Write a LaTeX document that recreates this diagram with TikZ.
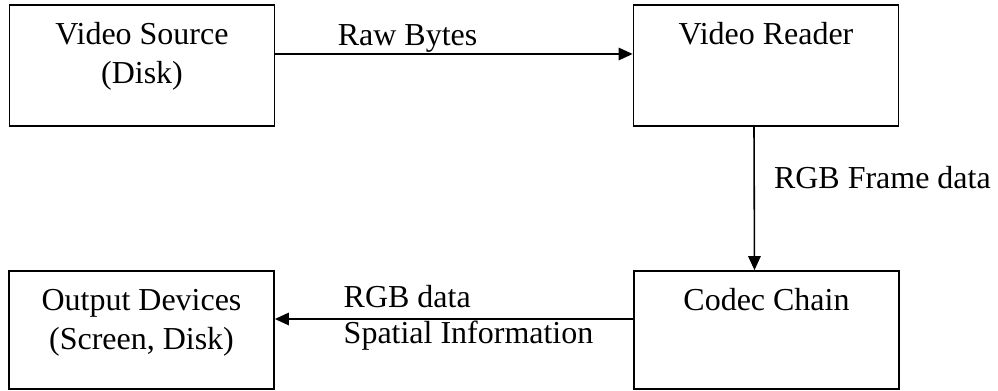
\documentclass[tikz,border=0pt]{standalone}
\usepackage{fontspec}
\setmainfont{Liberation Serif}
\usetikzlibrary{arrows.meta}

\tikzset{
  box/.style={draw, line width=1pt, minimum width=5.3cm, align=center,
    inner sep=0pt, text height=0.78cm, text depth=#1},
  box/.default=1.64cm,
  twoline/.style={text height=1.57cm, text depth=#1},
  flow/.style={-{Triangle[length=0.28cm,width=0.25cm]}, line width=0.9pt},
  lbl/.style={inner sep=0pt}
}

\begin{document}
\begin{tikzpicture}[font=\fontsize{18.2}{22.4}\selectfont]
  \useasboundingbox (0,0) rectangle (19.96,-7.82);

  % the four stages
  \node[box, twoline=0.85cm] (src) at (2.84,-1.31) {Video Source\\(Disk)};
  \node[box] (reader) at (15.32,-1.31) {Video Reader};
  \node[box=1.58cm] (codec) at (15.33,-6.6) {Codec Chain};
  \node[box, twoline=0.79cm] (out) at (2.83,-6.6) {Output Devices\\(Screen, Disk)};

  % data flow between them
  \draw[flow] ([yshift=0.23cm]src.east) -- ([yshift=0.23cm]reader.west)
    node[lbl, pos=0.37, anchor=base, yshift=0.18cm] {Raw Bytes};

  \draw[flow] ([xshift=-0.24cm]reader.south) -- ([xshift=-0.24cm]codec.north)
    node[lbl, pos=0.43, anchor=base west, xshift=0.38cm] {RGB Frame data};

  \draw[flow] ([yshift=0.22cm]codec.west) -- ([yshift=0.22cm]out.east)
    node[lbl, pos=0.81, anchor=base west, yshift=0.24cm] {RGB data}
    node[lbl, pos=0.81, anchor=base west, yshift=-0.48cm] {Spatial Information};
\end{tikzpicture}
\end{document}
